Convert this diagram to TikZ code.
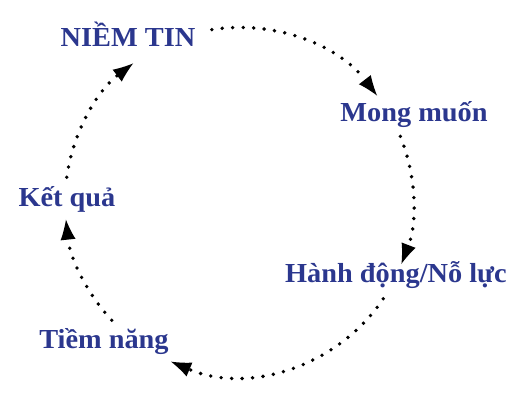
\documentclass[tikz,border=0pt]{standalone}
\usepackage{fontspec}
\setmainfont[FakeStretch=1.03]{Liberation Serif}
\usetikzlibrary{arrows.meta,calc}
\definecolor{cycleblue}{RGB}{43,55,142}
\begin{document}
\begin{tikzpicture}[x=1pt,y=1pt,
  label/.style={text=cycleblue,font=\bfseries\fontsize{27.5}{30}\selectfont,anchor=base,inner sep=0pt},
  cyclearrow/.style={line width=3.8pt,line cap=round,dash pattern=on 0pt off 10.5pt,
    -{Latex[length=20pt,width=15pt,line width=0pt]}}]
  \useasboundingbox (0,0) rectangle (529,395);
  \coordinate (O) at (239,193.5);
  \def\R{174}

  % stages of the cycle
  \node[label] (belief) at (128,348) {NIỀM TIN};
  \node[label] (desire) at (414,273) {Mong muốn};
  \node[label] (action) at (396,112) {Hành động/Nỗ lực};
  \node[label] (potential) at (104,46) {Tiềm năng};
  \node[label] (result) at (67,188) {Kết quả};

  % start points of the arcs on the circle
  \coordinate (s1) at ($(O)+(99:\R)$);
  \coordinate (s2) at ($(O)+(22:\R)$);
  \coordinate (s3) at ($(O)+(-34:\R)$);
  \coordinate (s4) at ($(O)+(223:\R)$);
  \coordinate (s5) at ($(O)+(172:\R)$);

  % dotted arcs between the stages
  \draw[cyclearrow] (s1) arc[start angle=99,end angle=37.5,radius=\R];
  \draw[cyclearrow] (s2) arc[start angle=22,end angle=-21,radius=\R];
  \draw[cyclearrow] (s3) arc[start angle=-34,end angle=-113,radius=\R];
  \draw[cyclearrow] (s4) arc[start angle=223,end angle=186,radius=\R];
  \draw[cyclearrow] (s5) arc[start angle=172,end angle=127.5,radius=\R];
\end{tikzpicture}
\end{document}
